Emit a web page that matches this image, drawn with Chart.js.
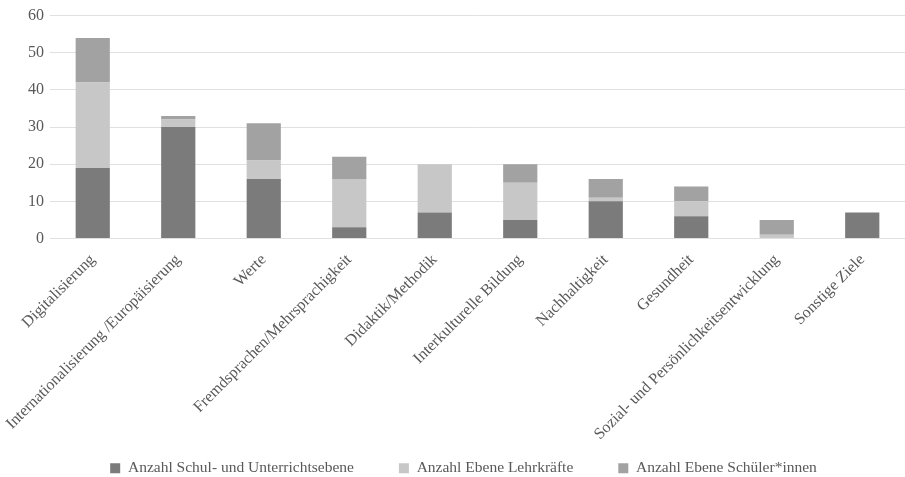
<!DOCTYPE html>
<html>
<head>
<meta charset="utf-8">
<script src="https://cdn.jsdelivr.net/npm/chart.js@4"></script>
<style>
  html, body { margin: 0; padding: 0; background: #fff; }
  #wrap { width: 905px; height: 477px; }
</style>
</head>
<body>
<div id="wrap"><canvas id="myChart"></canvas></div>
<script>
const categories = [
    'Digitalisierung',
    'Internationalisierung /Europäisierung',
    'Werte',
    'Fremdsprachen/Mehrsprachigkeit',
    'Didaktik/Methodik',
    'Interkulturelle Bildung',
    'Nachhaltigkeit',
    'Gesundheit',
    'Sozial- und Persönlichkeitsentwicklung',
    'Sonstige Ziele'
];
const schulEbene = [19, 30, 16, 3, 7, 5, 10, 6, 0, 7];
const lehrkraefte = [23, 2, 5, 13, 13, 10, 1, 4, 1, 0];
const schueler = [12, 1, 10, 6, 0, 5, 5, 4, 4, 0];
const yTicks = [0, 10, 20, 30, 40, 50, 60];

const font = { family: "'Liberation Serif', 'Times New Roman', serif", size: 16 };
const legendFont = { family: "'Liberation Serif', 'Times New Roman', serif", size: 15.5 };
const ctx = document.getElementById('myChart').getContext('2d');

const myChart = new Chart(ctx, {
    type: 'bar',
    data: {
        labels: categories,
        datasets: [{
            label: 'Anzahl Schul- und Unterrichtsebene',
            data: schulEbene,
            backgroundColor: '#7b7b7b'
        }, {
            label: 'Anzahl Ebene Lehrkräfte',
            data: lehrkraefte,
            backgroundColor: '#c6c7c6'
        }, {
            label: 'Anzahl Ebene Schüler*innen',
            data: schueler,
            backgroundColor: '#a2a2a2'
        }]
    },
    options: {
        responsive: true,
        maintainAspectRatio: false,
        animation: false,
        layout: { padding: { top: 0, right: 0, left: 22, bottom: -9 } },
        datasets: {
            bar: { categoryPercentage: 1.0, barPercentage: 0.4 }
        },
        plugins: {
            legend: {
                position: 'bottom',
                labels: {
                    font: legendFont,
                    color: '#595959',
                    boxWidth: 10,
                    boxHeight: 10,
                    padding: 45
                }
            },
            tooltip: { enabled: false }
        },
        scales: {
            x: {
                stacked: true,
                grid: { display: false },
                border: { display: false },
                afterFit: axis => {
                    axis.height = 177;
                    // long rotated labels run into the legend box, don't clip them
                    axis._computeLabelArea = () => undefined;
                },
                ticks: {
                    font: font,
                    color: '#595959',
                    maxRotation: 45,
                    minRotation: 45,
                    autoSkip: false,
                    padding: 4
                }
            },
            y: {
                stacked: true,
                min: 0,
                max: 60,
                afterBuildTicks: axis => { axis.ticks = yTicks.map(v => ({ value: v })); },
                grid: { color: '#e0e0e0', lineWidth: 1, drawTicks: false },
                border: { display: false },
                ticks: {
                    font: font,
                    color: '#595959',
                    padding: 6
                }
            }
        }
    }
});
</script>
</body>
</html>
